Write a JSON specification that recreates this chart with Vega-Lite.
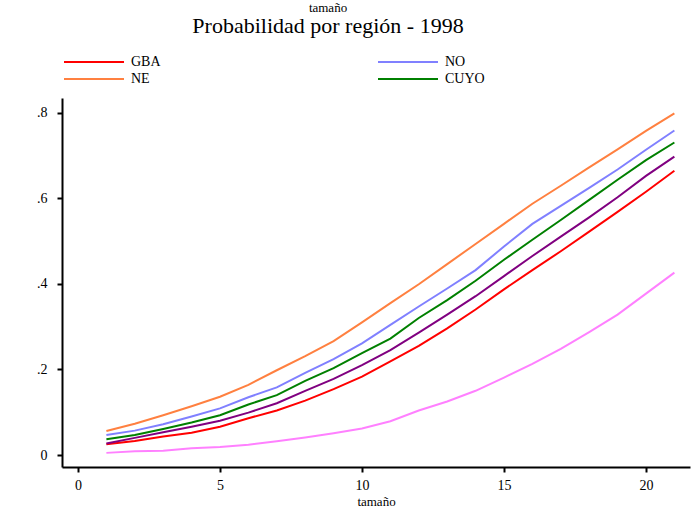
{
  "$schema": "https://vega.github.io/schema/vega-lite/v6.json",
  "width": 628,
  "height": 369,
  "autosize": {"type": "none"},
  "padding": {"left": 62, "top": 98, "right": 1, "bottom": 41},
  "background": "white",
  "title": {
    "text": "tamaño",
    "subtitle": "Probabilidad por región - 1998",
    "font": "Liberation Serif",
    "fontSize": 13,
    "fontWeight": "normal",
    "color": "black",
    "subtitleFont": "Liberation Serif",
    "subtitleFontSize": 22,
    "subtitleColor": "black",
    "subtitlePadding": 1,
    "anchor": "middle",
    "frame": "group",
    "dx": -48,
    "offset": 18
  },
  "config": {
    "view": {"stroke": null},
    "axis": {
      "grid": false,
      "domainColor": "black",
      "domainWidth": 2,
      "tickColor": "black",
      "tickWidth": 2,
      "tickSize": 5,
      "labelFont": "Liberation Serif",
      "labelFontSize": 14,
      "labelColor": "black",
      "titleFont": "Liberation Serif",
      "titleFontSize": 13,
      "titleFontWeight": "normal",
      "titleColor": "black"
    },
    "legend": {
      "labelFont": "Liberation Serif",
      "labelFontSize": 14,
      "labelColor": "black"
    }
  },
  "data": {
    "values": [
      {"x":1,"p":0.025,"region":"GBA"},{"x":2,"p":0.033,"region":"GBA"},{"x":3,"p":0.043,"region":"GBA"},{"x":4,"p":0.052,"region":"GBA"},{"x":5,"p":0.066,"region":"GBA"},{"x":6,"p":0.086,"region":"GBA"},{"x":7,"p":0.104,"region":"GBA"},{"x":8,"p":0.127,"region":"GBA"},{"x":9,"p":0.154,"region":"GBA"},{"x":10,"p":0.183,"region":"GBA"},{"x":11,"p":0.219,"region":"GBA"},{"x":12,"p":0.255,"region":"GBA"},{"x":13,"p":0.296,"region":"GBA"},{"x":14,"p":0.340,"region":"GBA"},{"x":15,"p":0.387,"region":"GBA"},{"x":16,"p":0.432,"region":"GBA"},{"x":17,"p":0.476,"region":"GBA"},{"x":18,"p":0.522,"region":"GBA"},{"x":19,"p":0.568,"region":"GBA"},{"x":20,"p":0.615,"region":"GBA"},{"x":21,"p":0.664,"region":"GBA"},
      {"x":1,"p":0.047,"region":"NO"},{"x":2,"p":0.057,"region":"NO"},{"x":3,"p":0.072,"region":"NO"},{"x":4,"p":0.090,"region":"NO"},{"x":5,"p":0.109,"region":"NO"},{"x":6,"p":0.135,"region":"NO"},{"x":7,"p":0.158,"region":"NO"},{"x":8,"p":0.192,"region":"NO"},{"x":9,"p":0.224,"region":"NO"},{"x":10,"p":0.261,"region":"NO"},{"x":11,"p":0.304,"region":"NO"},{"x":12,"p":0.347,"region":"NO"},{"x":13,"p":0.389,"region":"NO"},{"x":14,"p":0.432,"region":"NO"},{"x":15,"p":0.487,"region":"NO"},{"x":16,"p":0.540,"region":"NO"},{"x":17,"p":0.582,"region":"NO"},{"x":18,"p":0.624,"region":"NO"},{"x":19,"p":0.667,"region":"NO"},{"x":20,"p":0.713,"region":"NO"},{"x":21,"p":0.758,"region":"NO"},
      {"x":1,"p":0.056,"region":"NE"},{"x":2,"p":0.073,"region":"NE"},{"x":3,"p":0.093,"region":"NE"},{"x":4,"p":0.114,"region":"NE"},{"x":5,"p":0.136,"region":"NE"},{"x":6,"p":0.164,"region":"NE"},{"x":7,"p":0.198,"region":"NE"},{"x":8,"p":0.231,"region":"NE"},{"x":9,"p":0.266,"region":"NE"},{"x":10,"p":0.310,"region":"NE"},{"x":11,"p":0.355,"region":"NE"},{"x":12,"p":0.399,"region":"NE"},{"x":13,"p":0.446,"region":"NE"},{"x":14,"p":0.493,"region":"NE"},{"x":15,"p":0.540,"region":"NE"},{"x":16,"p":0.587,"region":"NE"},{"x":17,"p":0.629,"region":"NE"},{"x":18,"p":0.672,"region":"NE"},{"x":19,"p":0.714,"region":"NE"},{"x":20,"p":0.757,"region":"NE"},{"x":21,"p":0.798,"region":"NE"},
      {"x":1,"p":0.037,"region":"CUYO"},{"x":2,"p":0.047,"region":"CUYO"},{"x":3,"p":0.061,"region":"CUYO"},{"x":4,"p":0.076,"region":"CUYO"},{"x":5,"p":0.093,"region":"CUYO"},{"x":6,"p":0.118,"region":"CUYO"},{"x":7,"p":0.140,"region":"CUYO"},{"x":8,"p":0.173,"region":"CUYO"},{"x":9,"p":0.203,"region":"CUYO"},{"x":10,"p":0.238,"region":"CUYO"},{"x":11,"p":0.272,"region":"CUYO"},{"x":12,"p":0.320,"region":"CUYO"},{"x":13,"p":0.362,"region":"CUYO"},{"x":14,"p":0.407,"region":"CUYO"},{"x":15,"p":0.456,"region":"CUYO"},{"x":16,"p":0.503,"region":"CUYO"},{"x":17,"p":0.549,"region":"CUYO"},{"x":18,"p":0.596,"region":"CUYO"},{"x":19,"p":0.643,"region":"CUYO"},{"x":20,"p":0.689,"region":"CUYO"},{"x":21,"p":0.730,"region":"CUYO"},
      {"x":1,"p":0.027,"region":"PAMPEANA"},{"x":2,"p":0.040,"region":"PAMPEANA"},{"x":3,"p":0.053,"region":"PAMPEANA"},{"x":4,"p":0.066,"region":"PAMPEANA"},{"x":5,"p":0.080,"region":"PAMPEANA"},{"x":6,"p":0.099,"region":"PAMPEANA"},{"x":7,"p":0.121,"region":"PAMPEANA"},{"x":8,"p":0.150,"region":"PAMPEANA"},{"x":9,"p":0.178,"region":"PAMPEANA"},{"x":10,"p":0.210,"region":"PAMPEANA"},{"x":11,"p":0.245,"region":"PAMPEANA"},{"x":12,"p":0.286,"region":"PAMPEANA"},{"x":13,"p":0.328,"region":"PAMPEANA"},{"x":14,"p":0.371,"region":"PAMPEANA"},{"x":15,"p":0.418,"region":"PAMPEANA"},{"x":16,"p":0.465,"region":"PAMPEANA"},{"x":17,"p":0.510,"region":"PAMPEANA"},{"x":18,"p":0.555,"region":"PAMPEANA"},{"x":19,"p":0.602,"region":"PAMPEANA"},{"x":20,"p":0.652,"region":"PAMPEANA"},{"x":21,"p":0.697,"region":"PAMPEANA"},
      {"x":1,"p":0.005,"region":"PATAGONIA"},{"x":2,"p":0.009,"region":"PATAGONIA"},{"x":3,"p":0.010,"region":"PATAGONIA"},{"x":4,"p":0.016,"region":"PATAGONIA"},{"x":5,"p":0.019,"region":"PATAGONIA"},{"x":6,"p":0.024,"region":"PATAGONIA"},{"x":7,"p":0.032,"region":"PATAGONIA"},{"x":8,"p":0.041,"region":"PATAGONIA"},{"x":9,"p":0.051,"region":"PATAGONIA"},{"x":10,"p":0.062,"region":"PATAGONIA"},{"x":11,"p":0.079,"region":"PATAGONIA"},{"x":12,"p":0.104,"region":"PATAGONIA"},{"x":13,"p":0.125,"region":"PATAGONIA"},{"x":14,"p":0.150,"region":"PATAGONIA"},{"x":15,"p":0.181,"region":"PATAGONIA"},{"x":16,"p":0.213,"region":"PATAGONIA"},{"x":17,"p":0.248,"region":"PATAGONIA"},{"x":18,"p":0.287,"region":"PATAGONIA"},{"x":19,"p":0.328,"region":"PATAGONIA"},{"x":20,"p":0.377,"region":"PATAGONIA"},{"x":21,"p":0.426,"region":"PATAGONIA"}
    ]
  },
  "mark": {"type": "line", "strokeWidth": 2},
  "encoding": {
    "x": {
      "field": "x",
      "type": "quantitative",
      "scale": {"domain": [-0.563, 21.55], "nice": false, "zero": false},
      "axis": {"values": [0, 5, 10, 15, 20], "title": "tamaño", "labelPadding": 6, "titlePadding": 3}
    },
    "y": {
      "field": "p",
      "type": "quantitative",
      "scale": {"domain": [-0.028, 0.834], "nice": false, "zero": false},
      "axis": {
        "values": [0, 0.2, 0.4, 0.6, 0.8],
        "title": null,
        "labelPadding": 10,
        "labelExpr": "datum.value == 0 ? '0' : replace(format(datum.value, '.1f'), '0.', '.')"
      }
    },
    "color": {
      "field": "region",
      "type": "nominal",
      "scale": {
        "domain": ["GBA", "NO", "NE", "CUYO", "PAMPEANA", "PATAGONIA"],
        "range": ["#ff0000", "#8080ff", "#ff8040", "#008000", "#800080", "#ff80ff"]
      },
      "legend": {
        "values": ["GBA", "NO", "NE", "CUYO"],
        "title": null,
        "orient": "none",
        "direction": "horizontal",
        "legendX": 25,
        "legendY": -43,
        "columns": 2,
        "columnPadding": 213,
        "rowPadding": 3,
        "symbolType": "M-6,0H6",
        "symbolSize": 100,
        "symbolStrokeWidth": 2,
        "symbolFillColor": "transparent",
        "labelOffset": 30
      }
    }
  }
}
